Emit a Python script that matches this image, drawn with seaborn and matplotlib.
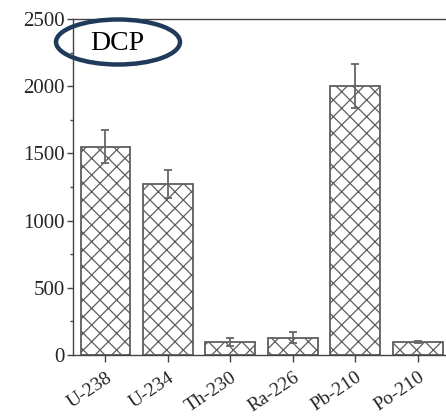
import matplotlib
matplotlib.use("Agg")
import matplotlib.pyplot as plt
from matplotlib.patches import Ellipse
from matplotlib.ticker import MultipleLocator
import seaborn as sns
import pandas as pd

isotopes = ["U-238", "U-234", "Th-230", "Ra-226", "Pb-210", "Po-210"]
activity = [1550, 1270, 97, 130, 2000, 97]
errors = [125, 105, 28, 38, 165, 5]

sns.set_style("ticks")
plt.rcParams["font.family"] = ["Liberation Serif", "DejaVu Serif"]
plt.rcParams["hatch.linewidth"] = 0.9

df = pd.DataFrame({"isotope": isotopes, "activity": activity})

fig = plt.figure(figsize=(4.46, 4.20), dpi=100)
ax = fig.add_axes([0.1637, 0.1548, 0.8363, 0.80])

sns.barplot(data=df, x="isotope", y="activity", ax=ax, color="white",
            edgecolor="#5e5e5e", linewidth=1.3, width=0.8, errorbar=None)
for p in ax.patches:
    p.set_hatch("xx")

ax.errorbar(range(len(isotopes)), activity, yerr=errors, fmt="none",
            ecolor="#666666", elinewidth=1.3, capsize=3, capthick=1.3)

ax.set_xlim(-0.52, 5.45)
ax.set_ylim(0, 2500)
ax.yaxis.set_major_locator(MultipleLocator(500))
ax.yaxis.set_minor_locator(MultipleLocator(250))
ax.set_xlabel("")
ax.set_ylabel("")

for s in ["left", "bottom", "top"]:
    ax.spines[s].set_color("#444444")
    ax.spines[s].set_linewidth(1.0)
ax.spines["right"].set_visible(False)

ax.tick_params(axis="y", which="major", length=4, width=1, color="#444444",
               labelsize=15, pad=2)
ax.tick_params(axis="y", which="minor", length=2.5, width=1, color="#444444")
ax.tick_params(axis="x", length=5, width=1, color="#444444", labelsize=14, pad=5)
plt.setp(ax.get_xticklabels(), rotation=34, ha="right", rotation_mode="anchor")

# DCP label with ellipse (figure coordinates, can extend past axes)
ell = Ellipse((118 / 446, 1 - 42 / 420), 124 / 446, 45 / 420,
              transform=fig.transFigure, fill=False, edgecolor="#203a5c",
              linewidth=3.2, clip_on=False, zorder=10)
fig.add_artist(ell)
fig.text(117 / 446, 1 - 43 / 420, "DCP", ha="center", va="center",
         fontsize=20, color="black")

fig.savefig("out.png", dpi=100)
